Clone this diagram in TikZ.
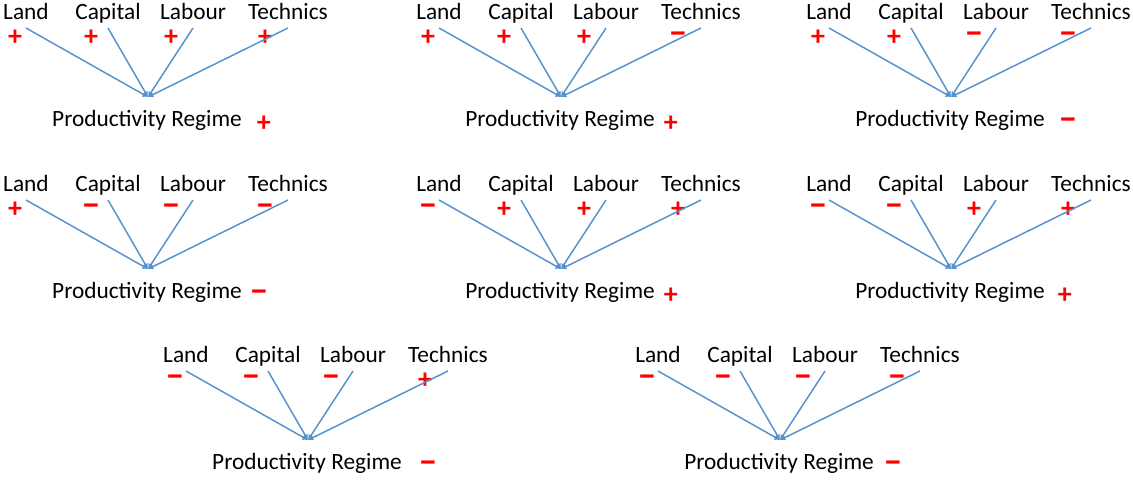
\documentclass[tikz,border=0pt]{standalone}
\usepackage{fontspec}
\setmainfont{Carlito}
\usetikzlibrary{arrows.meta,positioning}

\newcommand{\Minus}{{\fontsize{26}{24}\selectfont −}}

\begin{document}
\begin{tikzpicture}[x=0.75pt,y=-0.75pt]
	\definecolor{LinkBlue}{RGB}{84,146,206}
	\tikzstyle{Factor}	= [inner xsep=0pt, inner ysep=3.75pt, text height=0.64em, text depth=0.22em, font=\fontsize{17.5}{21}\selectfont]
	\tikzstyle{Result}	= [Factor, inner ysep=0pt]
	\tikzstyle{Sign}	= [inner sep=0pt, text=red, font=\fontsize{21}{24}\selectfont\bfseries]
	\tikzstyle{Link}	= [LinkBlue, line width=1.1pt, -{Latex[length=4pt,width=4.5pt]}]

	\useasboundingbox (0,0) rectangle (1133,479);

	% one diagram per entry: number/left/top/signs/gap of the result sign
	\foreach \n/\px/\py/\sLand/\sCap/\sLab/\sTec/\sRes/\gap in {
		1/5/15/+/+/+/+/+/11,
		2/418/15/+/+/+/\Minus/+/6.5,
		3/808/15/+/+/\Minus/\Minus/\Minus/10.5,
		4/5/187/+/\Minus/\Minus/\Minus/\Minus/6,
		5/418/187/\Minus/+/+/+/+/6.5,
		6/808/187/\Minus/\Minus/+/+/+/9.5,
		7/165/358/\Minus/\Minus/\Minus/+/\Minus/12.75,
		8/637/358/\Minus/\Minus/\Minus/\Minus/\Minus/7.5}{
		\node (land\n) at (\px+21,\py+2) [Factor] {Land};
		\node (capital\n) at (\px+103,\py+2) [Factor] {Capital};
		\node (labour\n) at (\px+188,\py+2) [Factor] {Labour};
		\node (technics\n) at (\px+283,\py+2) [Factor] {Technics};
		\coordinate (hub\n) at (\px+143,\py+82);
		\node (pr\n) at (\px+142,\py+109) [Result] {Productivity Regime};

		\node (sland\n) at (\px+10,\py+23) [Sign] {\sLand};
		\node (scapital\n) at (\px+86,\py+23) [Sign] {\sCap};
		\node (slabour\n) at (\px+166,\py+23) [Sign] {\sLab};
		\node (stechnics\n) at (\px+260,\py+23) [Sign] {\sTec};
		\node (spr\n) [Sign, right=\gap pt of pr\n] {\sRes};

		\draw (land\n.south) to (hub\n) [Link];
		\draw (capital\n.south) to (hub\n) [Link];
		\draw (labour\n.south) to (hub\n) [Link];
		\draw (technics\n.south) to (hub\n) [Link];
	}
\end{tikzpicture}
\end{document}
